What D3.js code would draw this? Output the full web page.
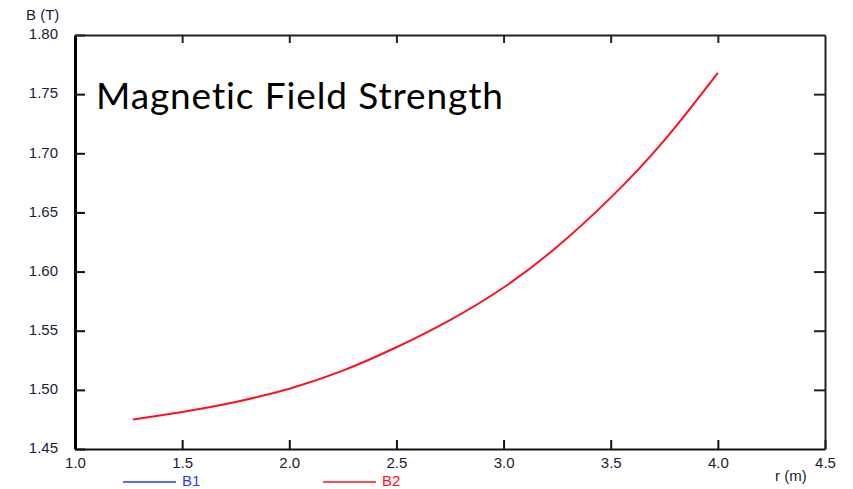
<!DOCTYPE html>
<html lang="en">
<head>
    <meta charset="UTF-8">
    <title>Magnetic Field Strength</title>
    <script src="https://d3js.org/d3.v7.min.js"></script>
    <style>
        body { margin: 0; background: #fff; }
    </style>
</head>
<body>
    <script>
        // radius (m) and field (T)
        let radius = [1.27, 1.5, 1.75, 2.0, 2.25, 2.5, 2.75, 3.0, 3.25, 3.5, 3.75, 4.0];
        let fieldB2 = [1.475, 1.4813, 1.4898, 1.501, 1.5163, 1.536, 1.559, 1.5865, 1.621, 1.6625, 1.711, 1.768];
        let xTicks = [1.0, 1.5, 2.0, 2.5, 3.0, 3.5, 4.0, 4.5];
        let yTicks = [1.45, 1.50, 1.55, 1.60, 1.65, 1.70, 1.75, 1.80];
        let legendNames = ['B1', 'B2'];
        let legendColors = ['#1f3cff', '#ff1020'];

        let width = 853;
        let height = 489;
        let plotLeft = 75, plotRight = 825, plotTop = 35, plotBottom = 449;

        let x = d3.scaleLinear().domain([1.0, 4.5]).range([plotLeft, plotRight]);
        let y = d3.scaleLinear().domain([1.45, 1.80]).range([plotBottom, plotTop]);

        let svg = d3.select('body').append('svg')
            .attr('width', width)
            .attr('height', height)
            .style('font-family', 'Liberation Sans, Arial, sans-serif');

        let labelColor = '#1c1c38';
        let fontSize = 15;

        // bottom axis with labels, ticks pointing up
        let bottomAxis = svg.append('g')
            .attr('transform', `translate(0,${plotBottom})`)
            .call(d3.axisBottom(x).tickValues(xTicks).tickFormat(d3.format('.1f'))
                .tickSizeInner(-9).tickSizeOuter(0).tickPadding(8));
        bottomAxis.select('.domain').attr('stroke', '#111').attr('stroke-width', 2);
        bottomAxis.selectAll('.tick line').attr('stroke', '#111').attr('stroke-width', 2);
        bottomAxis.selectAll('.tick text').attr('font-size', fontSize).attr('fill', labelColor);

        // left axis with labels, ticks pointing right
        let leftAxis = svg.append('g')
            .attr('transform', `translate(${plotLeft},0)`)
            .call(d3.axisLeft(y).tickValues(yTicks).tickFormat(d3.format('.2f'))
                .tickSizeInner(-10).tickSizeOuter(0).tickPadding(17));
        leftAxis.select('.domain').attr('stroke', '#000').attr('stroke-width', 3);
        leftAxis.selectAll('.tick line').attr('stroke', '#111').attr('stroke-width', 2);
        leftAxis.selectAll('.tick text').attr('font-size', fontSize).attr('fill', labelColor).attr('dy', '0.25em');

        // top and right frame, ticks only
        let topAxis = svg.append('g')
            .attr('transform', `translate(0,${plotTop})`)
            .call(d3.axisTop(x).tickValues(xTicks.slice(1, -1)).tickFormat('')
                .tickSizeInner(-8).tickSizeOuter(0));
        topAxis.select('.domain').attr('stroke', '#222').attr('stroke-width', 2);
        topAxis.selectAll('.tick line').attr('stroke', '#222').attr('stroke-width', 2);

        let rightAxis = svg.append('g')
            .attr('transform', `translate(${plotRight},0)`)
            .call(d3.axisRight(y).tickValues(yTicks.slice(1, -1)).tickFormat('')
                .tickSizeInner(-11).tickSizeOuter(0));
        rightAxis.select('.domain').attr('stroke', '#222').attr('stroke-width', 2);
        rightAxis.selectAll('.tick line').attr('stroke', '#222').attr('stroke-width', 2);

        // curve B2
        let line = d3.line()
            .x((d, i) => x(radius[i]))
            .y(d => y(d))
            .curve(d3.curveNatural);

        svg.append('path')
            .datum(fieldB2)
            .attr('d', line)
            .attr('fill', 'none')
            .attr('stroke', legendColors[1])
            .attr('stroke-width', 2);

        // axis titles
        svg.append('text')
            .attr('x', 26).attr('y', 20)
            .attr('font-size', fontSize).attr('fill', labelColor)
            .text('B (T)');
        svg.append('text')
            .attr('x', 775).attr('y', 481)
            .attr('font-size', fontSize).attr('fill', labelColor)
            .text('r (m)');

        // chart title
        svg.append('text')
            .attr('x', 96).attr('y', 109)
            .attr('font-family', 'Lato, Open Sans, sans-serif')
            .attr('font-size', 37)
            .attr('fill', '#000')
            .style('font-variant-ligatures', 'none')
            .attr('textLength', 407)
            .text('Magnetic Field Strength');

        // legend
        let legend = svg.selectAll('.legend').data(legendNames)
            .enter().append('g')
            .attr('class', 'legend')
            .attr('transform', (d, i) => `translate(${123 + i * 200},482)`);
        legend.append('line')
            .attr('x1', 0).attr('x2', 53)
            .attr('y1', 0).attr('y2', 0)
            .attr('stroke', (d, i) => legendColors[i])
            .attr('stroke-width', 1.5);
        legend.append('text')
            .attr('x', 59).attr('y', 4)
            .attr('font-size', fontSize)
            .attr('fill', (d, i) => legendColors[i])
            .text(d => d);
    </script>
</body>
</html>
